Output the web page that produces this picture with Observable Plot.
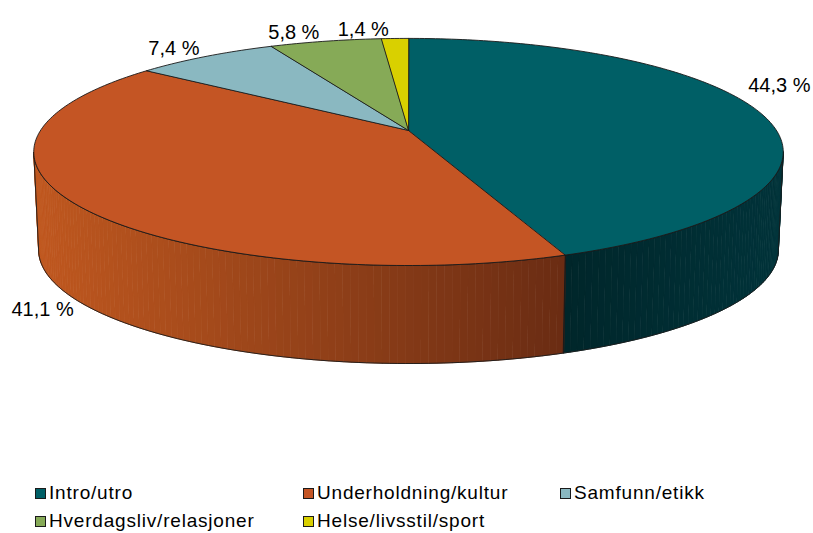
<!DOCTYPE html>
<html>
<head>
<meta charset="utf-8">
<script src="https://cdn.jsdelivr.net/npm/d3@7"></script>
<script src="https://cdn.jsdelivr.net/npm/@observablehq/plot@0.6"></script>
<style>
  html, body { margin: 0; padding: 0; background: #fff; width: 813px; height: 533px; overflow: hidden; }
  #chart svg { display: block; }
  .legend { display: grid; grid-template-columns: 268px 257px auto; padding-left: 35px;
            font-family: "Liberation Sans", Arial, sans-serif; font-size: 19px; letter-spacing: 0.8px; color: #000; }
  .legend .item { display: flex; align-items: center; height: 28px; white-space: nowrap; }
  .legend .sw { width: 9px; height: 9px; border: 1px solid #1a1a1a; margin-right: 3px; flex: none; }
</style>
</head>
<body>
<div id="chart"></div>
<script>
// ---- data ----
const categories = ["Intro/utro", "Underholdning/kultur", "Samfunn/etikk", "Hverdagsliv/relasjoner", "Helse/livsstil/sport"];
const shares = [44.3, 41.1, 7.4, 5.8, 1.4];
const topColors = ["#005f66", "#c45524", "#8ab8c1", "#86aa57", "#d9d000"];
const sideLight = ["#00333a", "#c0581f", "#6e949b", "#6b8946", "#aea700"];
const sideDark  = ["#00262a", "#6a2c13", "#55767c", "#506936", "#888200"];

// ---- 3D pie geometry (perspective ellipse) ----
const W = 813, H = 479;
const cx = 408, cy = 130, A = 368, B = 109.5, k = 0.189, depth = 98, bottomScale = 0.987;
function topPt(phi) {
  const u = Math.sin(phi), v = -Math.cos(phi), w = 1 - k * v;
  return [cx + A * u / w, cy + B * v / w];
}
function botPt(phi) {
  const [x, y] = topPt(phi);
  return [cx + (x - cx) * bottomScale, y + depth];
}
const visA = Math.acos(-k), visB = 2 * Math.PI - Math.acos(-k);

const arcs = d3.pie().sort(null).startAngle(0).endAngle(2 * Math.PI)(shares);
const step = Math.PI / 180;

const sideStrips = [], sideOutlines = [], tops = [];
arcs.forEach((a, i) => {
  const id = "t" + i;
  tops.push({id, x: cx, y: cy, fill: topColors[i]});
  const n = Math.max(2, Math.ceil((a.endAngle - a.startAngle) / step));
  for (let j = 0; j <= n; j++) {
    const p = topPt(a.startAngle + (a.endAngle - a.startAngle) * j / n);
    tops.push({id, x: p[0], y: p[1], fill: topColors[i]});
  }
  const s0 = Math.max(a.startAngle, visA), s1 = Math.min(a.endAngle, visB);
  if (s1 > s0) {
    const m = Math.max(2, Math.ceil((s1 - s0) / step));
    const xa = topPt(s0)[0], xb = topPt(s1)[0];
    const lo = Math.min(xa, xb), hi = Math.max(xa, xb);
    const interp = d3.interpolateRgb(sideLight[i], sideDark[i]);
    for (let j = 0; j < m; j++) {
      const p0 = s0 + (s1 - s0) * j / m, p1 = s0 + (s1 - s0) * (j + 1) / m;
      const xm = topPt((p0 + p1) / 2)[0];
      let t = (xm - lo) / (hi - lo);
      if (i === 0) t = 1 - t;
      const c = interp(t);
      const sid = "s" + i + "_" + j;
      [topPt(p0), topPt(p1), botPt(p1), botPt(p0)].forEach(p => sideStrips.push({id: sid, x: p[0], y: p[1], fill: c}));
    }
    const oid = "o" + i;
    for (let j = 0; j <= m; j++) { const p = topPt(s0 + (s1 - s0) * j / m); sideOutlines.push({id: oid, x: p[0], y: p[1]}); }
    for (let j = m; j >= 0; j--) { const p = botPt(s0 + (s1 - s0) * j / m); sideOutlines.push({id: oid, x: p[0], y: p[1]}); }
  }
});

// ---- labels: placed outside the rim at each slice's mid-angle ----
const fontSize = 20;
function textWidth(s) {
  let w = 0;
  for (const ch of s) w += ch === "%" ? 0.889 : (ch === "," || ch === " ") ? 0.278 : 0.556;
  return w * fontSize;
}
const rim = d3.range(0, 360, 0.5).map(d => topPt(d * Math.PI / 180));
const labels = arcs.map((a, i) => {
  const mid = (a.startAngle + a.endAngle) / 2;
  const front = mid > visA && mid < visB;
  const p = front ? botPt(mid) : topPt(mid);
  const u = Math.sin(mid), v = -Math.cos(mid);
  const text = shares[i].toFixed(1).replace(".", ",") + " %";
  const anchor = u >= 0 ? "start" : "end";
  const line = (front || v > 0) ? "top" : "bottom";
  let x = p[0] + (anchor === "end" ? -6 : 0), y = p[1] - (line === "bottom" ? 2 : 0);
  const w = textWidth(text);
  // keep inside the frame; if pushed back over the pie, lift it above the rim
  if (anchor === "start" && x + w > W - 3) {
    x = W - 3 - w;
    const ys = rim.filter(q => q[0] >= x && q[0] <= x + w && q[1] < cy + 25).map(q => q[1]);
    if (ys.length) y = Math.min(y, d3.min(ys) - 12);
  }
  return {x, y, text, anchor, line};
});
const font = {fontFamily: "Liberation Sans, Arial, sans-serif", fontSize, fill: "#000"};
const labelMarks = [];
for (const anchor of ["start", "end"]) for (const line of ["top", "bottom"]) {
  labelMarks.push(Plot.text(labels.filter(d => d.anchor === anchor && d.line === line),
    {x: "x", y: "y", text: "text", textAnchor: anchor, lineAnchor: line, ...font}));
}

const chart = Plot.plot({
  width: W, height: H, margin: 0,
  x: {domain: [0, W], range: [0, W], axis: null},
  y: {domain: [0, H], range: [0, H], axis: null},
  color: {type: "identity"},
  style: {background: "#fff"},
  marks: [
    Plot.line(sideStrips, {x: "x", y: "y", z: "id", fill: "fill", stroke: "fill", strokeWidth: 0.8, curve: "linear-closed"}),
    Plot.line(sideOutlines, {x: "x", y: "y", z: "id", fill: "none", stroke: "#1a1a1a", strokeWidth: 0.9, curve: "linear-closed"}),
    Plot.line(tops, {x: "x", y: "y", z: "id", fill: "fill", stroke: "#1a1a1a", strokeWidth: 0.9, curve: "linear-closed"}),
    ...labelMarks
  ]
});
document.getElementById("chart").appendChild(chart);

// legend (below the SVG)
const legend = document.createElement("div");
legend.className = "legend";
categories.forEach((c, i) => {
  const item = document.createElement("div");
  item.className = "item";
  const sw = document.createElement("span");
  sw.className = "sw";
  sw.style.background = topColors[i];
  item.appendChild(sw);
  item.appendChild(document.createTextNode(c));
  legend.appendChild(item);
});
document.body.appendChild(legend);
</script>
</body>
</html>
